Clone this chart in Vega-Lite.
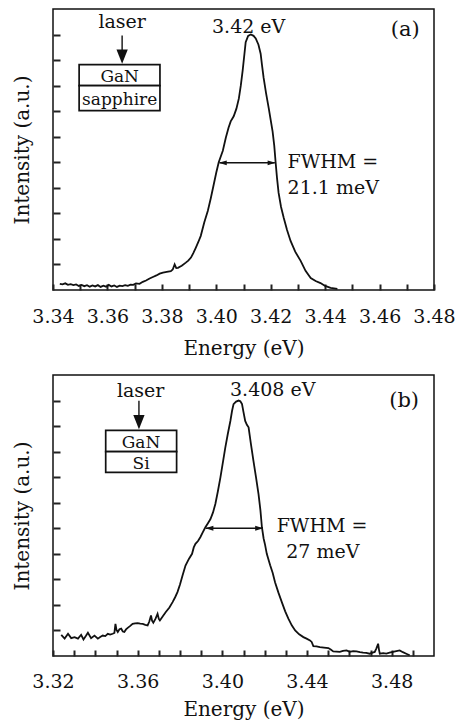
{
  "$schema": "https://vega.github.io/schema/vega-lite/v6.json",
  "padding": {"left": 11, "top": 8, "right": 5, "bottom": 5},
  "spacing": 15,
  "config": {
    "font": "DejaVu Serif",
    "view": {"stroke": "#111", "strokeWidth": 1.5},
    "axis": {
      "grid": false, "domain": false,
      "labelFont": "DejaVu Serif", "labelFontSize": 19, "labelColor": "#111",
      "titleFont": "DejaVu Serif", "titleFontSize": 20, "titleFontWeight": "normal", "titleColor": "#111",
      "tickColor": "#222", "tickWidth": 2, "minExtent": 0
    }
  },
  "datasets": {
    "specA": [
      {"E":3.3425,"I":0.24},{"E":3.3435,"I":0.22},{"E":3.3445,"I":0.26},{"E":3.3455,"I":0.20},{"E":3.3465,"I":0.23},{"E":3.3475,"I":0.19},{"E":3.3485,"I":0.22},{"E":3.3495,"I":0.16},{"E":3.3505,"I":0.20},{"E":3.3515,"I":0.15},{"E":3.3525,"I":0.19},{"E":3.3535,"I":0.13},{"E":3.3545,"I":0.18},{"E":3.3555,"I":0.14},{"E":3.3565,"I":0.19},{"E":3.3575,"I":0.12},{"E":3.3585,"I":0.17},{"E":3.3595,"I":0.13},{"E":3.3605,"I":0.20},{"E":3.3615,"I":0.14},{"E":3.3625,"I":0.18},{"E":3.3635,"I":0.12},{"E":3.3645,"I":0.17},{"E":3.3655,"I":0.15},{"E":3.3665,"I":0.19},{"E":3.3675,"I":0.16},{"E":3.3685,"I":0.21},{"E":3.3695,"I":0.20},{"E":3.3705,"I":0.26},{"E":3.3718,"I":0.24},{"E":3.3730,"I":0.32},{"E":3.3742,"I":0.37},{"E":3.3755,"I":0.45},{"E":3.3767,"I":0.51},{"E":3.3780,"I":0.57},{"E":3.3792,"I":0.64},{"E":3.3804,"I":0.68},{"E":3.3818,"I":0.71},{"E":3.3833,"I":0.74},{"E":3.3840,"I":0.80},{"E":3.3847,"I":1.00},{"E":3.3853,"I":0.86},{"E":3.3859,"I":0.87},{"E":3.3873,"I":0.95},{"E":3.3888,"I":1.07},{"E":3.3897,"I":1.15},{"E":3.3907,"I":1.27},{"E":3.3916,"I":1.45},{"E":3.3925,"I":1.66},{"E":3.3934,"I":1.88},{"E":3.3943,"I":2.12},{"E":3.3956,"I":2.65},{"E":3.3969,"I":3.10},{"E":3.3980,"I":3.60},{"E":3.3991,"I":4.15},{"E":3.4000,"I":4.60},{"E":3.4009,"I":5.00},{"E":3.4024,"I":5.45},{"E":3.4035,"I":5.96},{"E":3.4045,"I":6.35},{"E":3.4053,"I":6.60},{"E":3.4064,"I":6.80},{"E":3.4074,"I":7.10},{"E":3.4083,"I":7.50},{"E":3.4090,"I":8.00},{"E":3.4097,"I":8.60},{"E":3.4103,"I":9.20},{"E":3.4108,"I":9.70},{"E":3.4117,"I":9.95},{"E":3.4127,"I":10.0},{"E":3.4137,"I":9.95},{"E":3.4145,"I":9.85},{"E":3.4155,"I":9.60},{"E":3.4163,"I":9.25},{"E":3.4168,"I":8.80},{"E":3.4174,"I":8.30},{"E":3.4183,"I":7.70},{"E":3.4193,"I":7.10},{"E":3.4200,"I":6.65},{"E":3.4207,"I":6.20},{"E":3.4213,"I":5.65},{"E":3.4218,"I":5.00},{"E":3.4223,"I":4.40},{"E":3.4229,"I":3.80},{"E":3.4238,"I":3.25},{"E":3.4248,"I":2.82},{"E":3.4260,"I":2.35},{"E":3.4273,"I":1.92},{"E":3.4290,"I":1.50},{"E":3.4310,"I":1.14},{"E":3.4328,"I":0.75},{"E":3.4347,"I":0.47},{"E":3.4365,"I":0.35},{"E":3.4383,"I":0.27},{"E":3.4400,"I":0.16},{"E":3.4420,"I":0.08},{"E":3.4445,"I":0.04}
    ],
    "specB": [
      {"E":3.3239,"I":0.83},{"E":3.3255,"I":0.68},{"E":3.3271,"I":0.87},{"E":3.3286,"I":0.70},{"E":3.3302,"I":0.74},{"E":3.3318,"I":0.68},{"E":3.3333,"I":0.83},{"E":3.3344,"I":0.65},{"E":3.3355,"I":0.78},{"E":3.3365,"I":0.91},{"E":3.3380,"I":0.70},{"E":3.3396,"I":0.80},{"E":3.3412,"I":0.68},{"E":3.3423,"I":0.74},{"E":3.3435,"I":0.80},{"E":3.3447,"I":0.78},{"E":3.3459,"I":0.87},{"E":3.3470,"I":0.84},{"E":3.3482,"I":0.87},{"E":3.3490,"I":0.90},{"E":3.3495,"I":1.26},{"E":3.3500,"I":1.02},{"E":3.3506,"I":0.94},{"E":3.3514,"I":1.05},{"E":3.3522,"I":1.07},{"E":3.3530,"I":0.96},{"E":3.3537,"I":0.94},{"E":3.3545,"I":1.04},{"E":3.3553,"I":1.10},{"E":3.3565,"I":1.18},{"E":3.3576,"I":1.26},{"E":3.3588,"I":1.28},{"E":3.3600,"I":1.29},{"E":3.3612,"I":1.27},{"E":3.3624,"I":1.26},{"E":3.3636,"I":1.22},{"E":3.3647,"I":1.20},{"E":3.3655,"I":1.35},{"E":3.3663,"I":1.59},{"E":3.3668,"I":1.38},{"E":3.3674,"I":1.30},{"E":3.3684,"I":1.45},{"E":3.3694,"I":1.65},{"E":3.3700,"I":1.45},{"E":3.3705,"I":1.39},{"E":3.3718,"I":1.55},{"E":3.3733,"I":1.72},{"E":3.3750,"I":1.90},{"E":3.3765,"I":2.11},{"E":3.3777,"I":2.30},{"E":3.3788,"I":2.50},{"E":3.3800,"I":2.80},{"E":3.3812,"I":3.15},{"E":3.3826,"I":3.54},{"E":3.3842,"I":3.80},{"E":3.3857,"I":4.00},{"E":3.3865,"I":4.25},{"E":3.3873,"I":4.39},{"E":3.3885,"I":4.50},{"E":3.3896,"I":4.65},{"E":3.3908,"I":4.85},{"E":3.3920,"I":5.04},{"E":3.3932,"I":5.20},{"E":3.3944,"I":5.36},{"E":3.3956,"I":5.62},{"E":3.3967,"I":5.95},{"E":3.3979,"I":6.45},{"E":3.3991,"I":6.99},{"E":3.4003,"I":7.60},{"E":3.4014,"I":8.16},{"E":3.4026,"I":8.70},{"E":3.4038,"I":9.20},{"E":3.4046,"I":9.60},{"E":3.4053,"I":9.86},{"E":3.4065,"I":9.96},{"E":3.4077,"I":10.0},{"E":3.4085,"I":9.97},{"E":3.4093,"I":9.86},{"E":3.4100,"I":9.55},{"E":3.4108,"I":9.20},{"E":3.4116,"I":9.05},{"E":3.4124,"I":8.95},{"E":3.4135,"I":8.30},{"E":3.4147,"I":7.64},{"E":3.4159,"I":7.00},{"E":3.4171,"I":6.34},{"E":3.4180,"I":5.70},{"E":3.4187,"I":5.04},{"E":3.4195,"I":4.60},{"E":3.4202,"I":4.35},{"E":3.4210,"I":4.00},{"E":3.4226,"I":3.55},{"E":3.4238,"I":3.25},{"E":3.4249,"I":2.89},{"E":3.4265,"I":2.48},{"E":3.4281,"I":2.11},{"E":3.4297,"I":1.75},{"E":3.4312,"I":1.46},{"E":3.4328,"I":1.20},{"E":3.4344,"I":1.00},{"E":3.4363,"I":0.85},{"E":3.4383,"I":0.74},{"E":3.4398,"I":0.68},{"E":3.4414,"I":0.61},{"E":3.4422,"I":0.55},{"E":3.4430,"I":0.39},{"E":3.4445,"I":0.38},{"E":3.4461,"I":0.35},{"E":3.4480,"I":0.33},{"E":3.4501,"I":0.31},{"E":3.4512,"I":0.25},{"E":3.4524,"I":0.18},{"E":3.4540,"I":0.17},{"E":3.4555,"I":0.16},{"E":3.4570,"I":0.20},{"E":3.4587,"I":0.22},{"E":3.4602,"I":0.16},{"E":3.4618,"I":0.19},{"E":3.4634,"I":0.18},{"E":3.4650,"I":0.15},{"E":3.4665,"I":0.13},{"E":3.4680,"I":0.12},{"E":3.4696,"I":0.09},{"E":3.4710,"I":0.13},{"E":3.4720,"I":0.16},{"E":3.4728,"I":0.30},{"E":3.4736,"I":0.48},{"E":3.4740,"I":0.25},{"E":3.4744,"I":0.09},{"E":3.4760,"I":0.11},{"E":3.4775,"I":0.09},{"E":3.4790,"I":0.13},{"E":3.4806,"I":0.16},{"E":3.4822,"I":0.19},{"E":3.4838,"I":0.22},{"E":3.4853,"I":0.15},{"E":3.4869,"I":0.09},{"E":3.4885,"I":0.03}
    ],
    "boxes": [
      {"panel":"a","E":3.3496,"E2":3.3793,"I":8.0,"I2":8.82},
      {"panel":"a","E":3.3496,"E2":3.3793,"I":7.02,"I2":8.0},
      {"panel":"b","E":3.3449,"E2":3.3784,"I":8.0,"I2":8.83},
      {"panel":"b","E":3.3449,"E2":3.3784,"I":7.19,"I2":8.0}
    ],
    "rules": [
      {"panel":"a","E":3.3654,"E2":3.3654,"I":9.96,"I2":8.95},
      {"panel":"a","E":3.4012,"E2":3.4215,"I":4.98,"I2":4.98},
      {"panel":"b","E":3.3606,"E2":3.3606,"I":9.99,"I2":8.95},
      {"panel":"b","E":3.3923,"E2":3.4190,"I":5.0,"I2":5.0}
    ],
    "heads": [
      {"panel":"a","dir":"down","E":3.3654,"I":8.86},
      {"panel":"a","dir":"left","E":3.4009,"I":4.98},
      {"panel":"a","dir":"right","E":3.4218,"I":4.98},
      {"panel":"b","dir":"down","E":3.3606,"I":8.88},
      {"panel":"b","dir":"left","E":3.3920,"I":5.0},
      {"panel":"b","dir":"right","E":3.4193,"I":5.0}
    ],
    "labels": [
      {"panel":"a","kind":"center","E":3.3654,"I":10.26,"t":"laser"},
      {"panel":"a","kind":"center","E":3.4119,"I":10.08,"t":"3.42 eV"},
      {"panel":"a","kind":"tag","E":3.4694,"I":9.96,"t":"(a)"},
      {"panel":"a","kind":"box","E":3.3645,"I":8.13,"t":"GaN"},
      {"panel":"a","kind":"box","E":3.3645,"I":7.25,"t":"sapphire"},
      {"panel":"a","kind":"fwhm","E":3.4262,"I":4.76,"t":"FWHM ="},
      {"panel":"a","kind":"fwhm","E":3.4262,"I":3.75,"t":"21.1 meV"},
      {"panel":"b","kind":"center","E":3.3614,"I":10.12,"t":"laser"},
      {"panel":"b","kind":"center","E":3.4238,"I":10.18,"t":"3.408 eV"},
      {"panel":"b","kind":"tag","E":3.4859,"I":9.73,"t":"(b)"},
      {"panel":"b","kind":"box","E":3.3616,"I":8.13,"t":"GaN"},
      {"panel":"b","kind":"box","E":3.3616,"I":7.32,"t":"Si"},
      {"panel":"b","kind":"fwhm","E":3.4471,"I":4.84,"t":"FWHM ="},
      {"panel":"b","kind":"fwhm","E":3.4475,"I":3.83,"t":"27 meV"}
    ]
  },
  "vconcat": [
    {
      "width": 381, "height": 281,
      "encoding": {
        "x": {"field": "E", "type": "quantitative", "scale": {"domain": [3.34, 3.48], "nice": false, "zero": false},
          "axis": {"title": "Energy (eV)", "values": [3.34,3.35,3.36,3.37,3.38,3.39,3.40,3.41,3.42,3.43,3.44,3.45,3.46,3.47,3.48], "format": ".2f", "labelExpr": "round(datum.value*100) % 2 == 0 ? datum.label : ''", "labelOverlap": false, "labelFlush": false, "tickSize": -6, "labelPadding": 23, "titlePadding": 12}},
        "y": {"field": "I", "type": "quantitative", "scale": {"domain": [0, 11], "nice": false, "zero": false},
          "axis": {"title": "Intensity (a.u.)", "labels": false, "values": [1,2,3,4,5,6,7,8,9,10], "tickSize": -7, "titlePadding": 20}}
      },
      "layer": [
        {
          "data": {"name": "specA"},
          "mark": {"type": "line", "stroke": "#111", "strokeWidth": 1.8}
        },
        {
          "data": {"name": "boxes"}, "transform": [{"filter": "datum.panel == 'a'"}],
          "mark": {"type": "rect", "fill": "white", "stroke": "#111", "strokeWidth": 1.7},
          "encoding": {"x2": {"field": "E2"}, "y2": {"field": "I2"}}
        },
        {
          "data": {"name": "rules"}, "transform": [{"filter": "datum.panel == 'a'"}],
          "mark": {"type": "rule", "stroke": "#111", "strokeWidth": 1.4},
          "encoding": {"x2": {"field": "E2"}, "y2": {"field": "I2"}}
        },
        {
          "data": {"name": "heads"}, "transform": [{"filter": "datum.panel == 'a' && datum.dir == 'down'"}],
          "mark": {"type": "point", "shape": "M-0.8,-2L0.8,-2L0,0Z", "size": 200, "filled": true, "color": "#111", "opacity": 1}
        },
        {
          "data": {"name": "heads"}, "transform": [{"filter": "datum.panel == 'a' && datum.dir == 'left'"}],
          "mark": {"type": "point", "shape": "M0,0L2,-0.6L2,0.6Z", "size": 64, "filled": true, "color": "#111", "opacity": 1}
        },
        {
          "data": {"name": "heads"}, "transform": [{"filter": "datum.panel == 'a' && datum.dir == 'right'"}],
          "mark": {"type": "point", "shape": "M0,0L-2,-0.6L-2,0.6Z", "size": 64, "filled": true, "color": "#111", "opacity": 1}
        },
        {
          "data": {"name": "labels"}, "transform": [{"filter": "datum.panel == 'a' && datum.kind == 'center'"}],
          "mark": {"type": "text", "font": "DejaVu Serif", "fontSize": 19, "align": "center", "baseline": "alphabetic", "color": "#111"},
          "encoding": {"text": {"field": "t"}}
        },
        {
          "data": {"name": "labels"}, "transform": [{"filter": "datum.panel == 'a' && datum.kind == 'tag'"}],
          "mark": {"type": "text", "font": "DejaVu Serif", "fontSize": 21, "align": "center", "baseline": "alphabetic", "color": "#111"},
          "encoding": {"text": {"field": "t"}}
        },
        {
          "data": {"name": "labels"}, "transform": [{"filter": "datum.panel == 'a' && datum.kind == 'box'"}],
          "mark": {"type": "text", "font": "DejaVu Serif", "fontSize": 17, "align": "center", "baseline": "alphabetic", "color": "#111"},
          "encoding": {"text": {"field": "t"}}
        },
        {
          "data": {"name": "labels"}, "transform": [{"filter": "datum.panel == 'a' && datum.kind == 'fwhm'"}],
          "mark": {"type": "text", "font": "DejaVu Serif", "fontSize": 19, "align": "left", "baseline": "alphabetic", "color": "#111"},
          "encoding": {"text": {"field": "t"}}
        }
      ]
    },
    {
      "width": 381, "height": 281,
      "encoding": {
        "x": {"field": "E", "type": "quantitative", "scale": {"domain": [3.32, 3.50], "nice": false, "zero": false},
          "axis": {"title": "Energy (eV)", "values": [3.32,3.33,3.34,3.35,3.36,3.37,3.38,3.39,3.40,3.41,3.42,3.43,3.44,3.45,3.46,3.47,3.48,3.49], "format": ".2f", "labelExpr": "round(datum.value*100) % 4 == 0 ? datum.label : ''", "labelOverlap": false, "labelFlush": false, "tickSize": -6, "labelPadding": 22, "titlePadding": 8}},
        "y": {"field": "I", "type": "quantitative", "scale": {"domain": [0, 11], "nice": false, "zero": false},
          "axis": {"title": "Intensity (a.u.)", "labels": false, "values": [1,2,3,4,5,6,7,8,9,10], "tickSize": -7, "titlePadding": 20}}
      },
      "layer": [
        {
          "data": {"name": "specB"},
          "mark": {"type": "line", "stroke": "#111", "strokeWidth": 1.8}
        },
        {
          "data": {"name": "boxes"}, "transform": [{"filter": "datum.panel == 'b'"}],
          "mark": {"type": "rect", "fill": "white", "stroke": "#111", "strokeWidth": 1.7},
          "encoding": {"x2": {"field": "E2"}, "y2": {"field": "I2"}}
        },
        {
          "data": {"name": "rules"}, "transform": [{"filter": "datum.panel == 'b'"}],
          "mark": {"type": "rule", "stroke": "#111", "strokeWidth": 1.4},
          "encoding": {"x2": {"field": "E2"}, "y2": {"field": "I2"}}
        },
        {
          "data": {"name": "heads"}, "transform": [{"filter": "datum.panel == 'b' && datum.dir == 'down'"}],
          "mark": {"type": "point", "shape": "M-0.8,-2L0.8,-2L0,0Z", "size": 200, "filled": true, "color": "#111", "opacity": 1}
        },
        {
          "data": {"name": "heads"}, "transform": [{"filter": "datum.panel == 'b' && datum.dir == 'left'"}],
          "mark": {"type": "point", "shape": "M0,0L2,-0.6L2,0.6Z", "size": 64, "filled": true, "color": "#111", "opacity": 1}
        },
        {
          "data": {"name": "heads"}, "transform": [{"filter": "datum.panel == 'b' && datum.dir == 'right'"}],
          "mark": {"type": "point", "shape": "M0,0L-2,-0.6L-2,0.6Z", "size": 64, "filled": true, "color": "#111", "opacity": 1}
        },
        {
          "data": {"name": "labels"}, "transform": [{"filter": "datum.panel == 'b' && datum.kind == 'center'"}],
          "mark": {"type": "text", "font": "DejaVu Serif", "fontSize": 19, "align": "center", "baseline": "alphabetic", "color": "#111"},
          "encoding": {"text": {"field": "t"}}
        },
        {
          "data": {"name": "labels"}, "transform": [{"filter": "datum.panel == 'b' && datum.kind == 'tag'"}],
          "mark": {"type": "text", "font": "DejaVu Serif", "fontSize": 21, "align": "center", "baseline": "alphabetic", "color": "#111"},
          "encoding": {"text": {"field": "t"}}
        },
        {
          "data": {"name": "labels"}, "transform": [{"filter": "datum.panel == 'b' && datum.kind == 'box'"}],
          "mark": {"type": "text", "font": "DejaVu Serif", "fontSize": 17, "align": "center", "baseline": "alphabetic", "color": "#111"},
          "encoding": {"text": {"field": "t"}}
        },
        {
          "data": {"name": "labels"}, "transform": [{"filter": "datum.panel == 'b' && datum.kind == 'fwhm'"}],
          "mark": {"type": "text", "font": "DejaVu Serif", "fontSize": 19, "align": "center", "baseline": "alphabetic", "color": "#111"},
          "encoding": {"text": {"field": "t"}}
        }
      ]
    }
  ]
}
